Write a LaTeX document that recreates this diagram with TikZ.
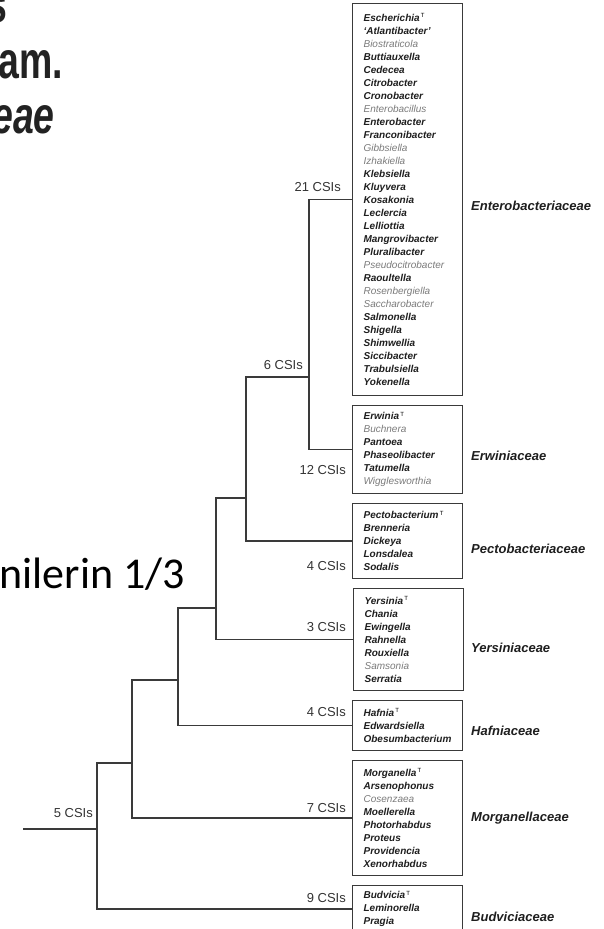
\documentclass[tikz,border=0pt]{standalone}
\usepackage{fontspec}
\setmainfont{Liberation Sans}
\newfontfamily\titlefont[FakeStretch=0.72]{Liberation Sans}
\newfontfamily\slidefont{Carlito}
\definecolor{ln}{HTML}{3A3A3A}
\definecolor{csi}{HTML}{333333}
\definecolor{gen}{HTML}{1E1E1E}
\definecolor{gengray}{HTML}{7A7A7A}
\definecolor{ttl}{HTML}{222222}
\newcommand{\genB}[1]{\textcolor{gen}{\textbf{\textit{#1}}}}
\newcommand{\genG}[1]{\textcolor{gengray}{\textit{#1}}}
\newcommand{\typeT}{\textsuperscript{\,\fontsize{6}{6}\selectfont\upshape\mdseries T}}
\tikzset{
  edge/.style={draw=ln, line width=1.3pt},
  fambox/.style={draw=ln, line width=1.2pt, anchor=north west, minimum width=110pt,
    text width=88pt, inner xsep=11pt, inner ysep=0pt, align=left,
    font=\fontsize{10}{13}\selectfont},
  csilab/.style={anchor=east, font=\fontsize{13}{13}\selectfont, text=csi, inner sep=0pt},
  famlab/.style={anchor=west, font=\fontsize{13}{13}\selectfont\bfseries\itshape, text=gen, inner sep=0pt},
  slidetitle/.style={anchor=base east, inner sep=0pt, text=ttl, font=\titlefont\bfseries\fontsize{52}{52}\selectfont},
}
\begin{document}
\begin{tikzpicture}[x=1pt,y=-1pt]
\useasboundingbox (0,0) rectangle (604,929);
\clip (0,0) rectangle (604,929);

% slide fragments
\node[slidetitle] (ts) at (8,22) {s};
\node[slidetitle] (tam) at (63,78) {am.};
\node[slidetitle, font=\titlefont\bfseries\itshape\fontsize{52}{52}\selectfont] (teae) at (55,133) {eae};
\node[anchor=base east, inner sep=0pt, font=\slidefont\fontsize{44}{44}\selectfont] (tnil) at (185,588) {nilerin 1/3};

% boxes
\node[fambox, minimum height=392pt] (entero) at (352,3) {%
\genB{Escherichia}\typeT\\ \genB{`Atlantibacter'}\\ \genG{Biostraticola}\\ \genB{Buttiauxella}\\ \genB{Cedecea}\\
\genB{Citrobacter}\\ \genB{Cronobacter}\\ \genG{Enterobacillus}\\ \genB{Enterobacter}\\ \genB{Franconibacter}\\
\genG{Gibbsiella}\\ \genG{Izhakiella}\\ \genB{Klebsiella}\\ \genB{Kluyvera}\\ \genB{Kosakonia}\\
\genB{Leclercia}\\ \genB{Lelliottia}\\ \genB{Mangrovibacter}\\ \genB{Pluralibacter}\\ \genG{Pseudocitrobacter}\\
\genB{Raoultella}\\ \genG{Rosenbergiella}\\ \genG{Saccharobacter}\\ \genB{Salmonella}\\ \genB{Shigella}\\
\genB{Shimwellia}\\ \genB{Siccibacter}\\ \genB{Trabulsiella}\\ \genB{Yokenella}};
\node[fambox, minimum height=88pt] (erwinia) at (352,405) {%
\genB{Erwinia}\typeT\\ \genG{Buchnera}\\ \genB{Pantoea}\\ \genB{Phaseolibacter}\\ \genB{Tatumella}\\ \genG{Wigglesworthia}};
\node[fambox, minimum height=75pt] (pecto) at (352,503) {%
\genB{Pectobacterium}\typeT\\ \genB{Brenneria}\\ \genB{Dickeya}\\ \genB{Lonsdalea}\\ \genB{Sodalis}};
\node[fambox, minimum height=102pt] (yersinia) at (353,588) {%
\genB{Yersinia}\typeT\\ \genB{Chania}\\ \genB{Ewingella}\\ \genB{Rahnella}\\ \genB{Rouxiella}\\ \genG{Samsonia}\\ \genB{Serratia}};
\node[fambox, minimum height=50pt] (hafnia) at (352,700) {%
\genB{Hafnia}\typeT\\ \genB{Edwardsiella}\\ \genB{Obesumbacterium}};
\node[fambox, minimum height=115pt] (morganella) at (352,760) {%
\genB{Morganella}\typeT\\ \genB{Arsenophonus}\\ \genG{Cosenzaea}\\ \genB{Moellerella}\\ \genB{Photorhabdus}\\
\genB{Proteus}\\ \genB{Providencia}\\ \genB{Xenorhabdus}};
\node[fambox, minimum height=47pt] (budvicia) at (352,885) {%
\genB{Budvicia}\typeT\\ \genB{Leminorella}\\ \genB{Pragia}};

% family labels
\node[famlab] (fentero) at (471,206) {Enterobacteriaceae};
\node[famlab] (ferwinia) at (471,456) {Erwiniaceae};
\node[famlab] (fpecto) at (471,549) {Pectobacteriaceae};
\node[famlab] (fyersinia) at (471,648) {Yersiniaceae};
\node[famlab] (fhafnia) at (471,731) {Hafniaceae};
\node[famlab] (fmorganella) at (471,818) {Morganellaceae};
\node[famlab] (fbudvicia) at (471,917) {Budviciaceae};

% internal nodes of the tree
\coordinate (root) at (23,829);
\coordinate (A) at (97,829);
\coordinate (B) at (132,763);
\coordinate (C) at (178,680);
\coordinate (D) at (216,608);
\coordinate (E) at (246,498);
\coordinate (F) at (309,377);

% branches
\draw[edge] (entero.west) -| (F) |- (erwinia.west);
\draw[edge] (F) -| (E) |- (pecto.west);
\draw[edge] (E) -| (D) |- (yersinia.west);
\draw[edge] (D) -| (C) |- (hafnia.west);
\draw[edge] (C) -| (B) |- (morganella.west);
\draw[edge] (B) -| (A) |- (budvicia.west);
\draw[edge] (root) -- (A);

% CSI labels
\node[csilab] (c21) at (341,187) {21 CSIs};
\node[csilab] (c6) at (303,365) {6 CSIs};
\node[csilab] (c12) at (346,470) {12 CSIs};
\node[csilab] (c4a) at (346,566) {4 CSIs};
\node[csilab] (c3) at (346,627) {3 CSIs};
\node[csilab] (c4b) at (346,712) {4 CSIs};
\node[csilab] (c7) at (346,808) {7 CSIs};
\node[csilab] (c9) at (346,898) {9 CSIs};
\node[csilab] (c5) at (93,813) {5 CSIs};
\end{tikzpicture}
\end{document}
